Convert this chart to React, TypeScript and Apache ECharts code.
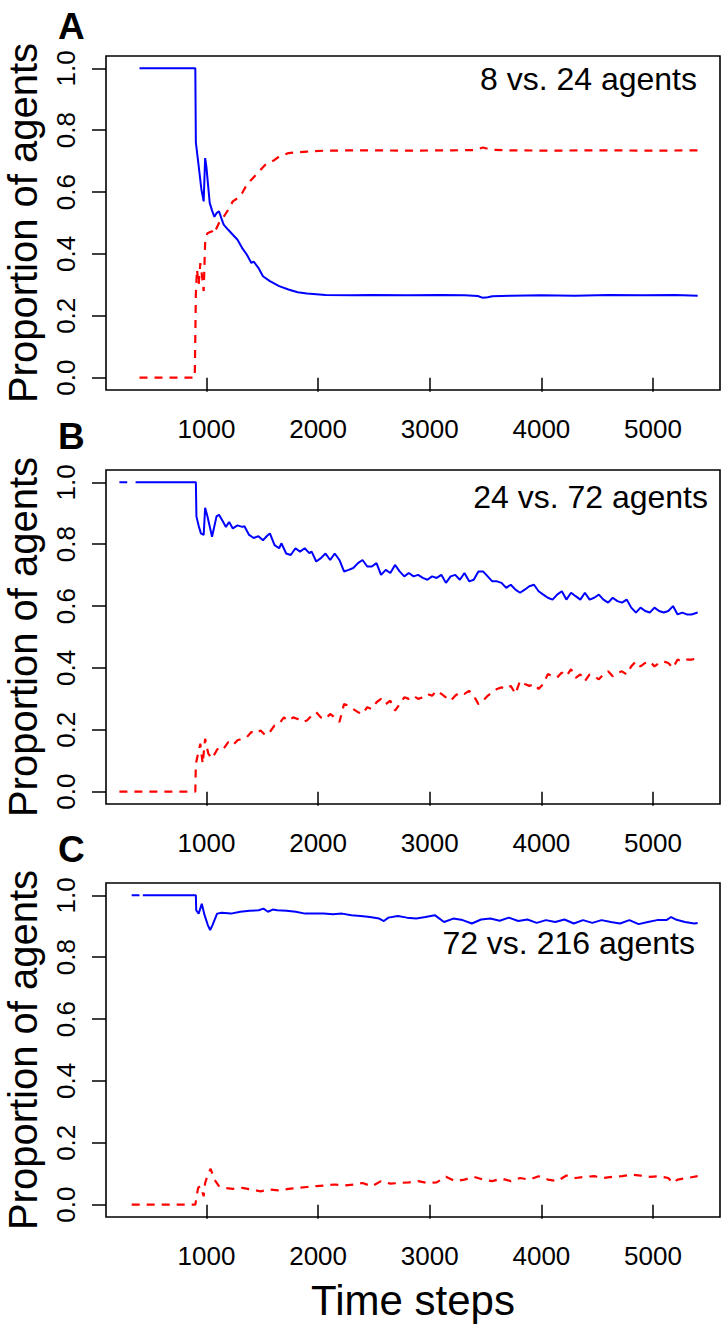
import React, { useEffect, useRef } from "react";
import * as echarts from "echarts";

// Tick labels
const xTicks = [1000, 2000, 3000, 4000, 5000];
const yTicks = [0, 0.2, 0.4, 0.6, 0.8, 1.0];

const panelLetters = ["A", "B", "C"];
const panelNotes = ["8 vs. 24 agents", "24 vs. 72 agents", "72 vs. 216 agents"];

// Panel A
const aBlue: (number | null)[][] = [
  [400, 1], [900, 1], [905, 0.76], [925, 0.7], [954, 0.61], [975, 0.57], [988, 0.71], [1000, 0.68],
  [1015, 0.62], [1029, 0.565], [1050, 0.54], [1071, 0.52], [1091, 0.532], [1112, 0.538], [1133, 0.516],
  [1154, 0.495], [1195, 0.478], [1236, 0.462], [1278, 0.446], [1320, 0.419], [1361, 0.398], [1402, 0.371],
  [1423, 0.375], [1465, 0.355], [1506, 0.328], [1568, 0.312], [1651, 0.296], [1734, 0.285], [1817, 0.276],
  [1900, 0.272], [2066, 0.267], [2300, 0.266], [2481, 0.267], [2800, 0.266], [3100, 0.267], [3311, 0.266],
  [3430, 0.264], [3477, 0.258], [3520, 0.26], [3560, 0.263], [3726, 0.265], [4000, 0.266], [4300, 0.265],
  [4600, 0.267], [4900, 0.266], [5200, 0.267], [5400, 0.265],
];
const aRed: (number | null)[][] = [
  [400, 0], [895, 0], [905, 0.27], [915, 0.35], [930, 0.3], [945, 0.37], [960, 0.33], [975, 0.28],
  [988, 0.435], [1008, 0.467], [1050, 0.473], [1071, 0.465], [1091, 0.484], [1112, 0.5], [1154, 0.52],
  [1195, 0.543], [1236, 0.57], [1278, 0.58], [1320, 0.597], [1361, 0.624], [1402, 0.64], [1444, 0.656],
  [1485, 0.672], [1527, 0.688], [1610, 0.704], [1651, 0.715], [1734, 0.726], [1900, 0.731], [2066, 0.734],
  [2400, 0.735], [2800, 0.734], [3200, 0.735], [3400, 0.736], [3477, 0.744], [3520, 0.74], [3560, 0.737],
  [3726, 0.735], [4100, 0.734], [4500, 0.735], [5000, 0.734], [5400, 0.735],
];

// Panel B
const bBlue: (number | null)[][] = [
  [220, 1], [290, 1], [320, null], [365, 1], [905, 1], [910, 0.89], [930, 0.86], [950, 0.835], [975, 0.83],
  [988, 0.918], [1010, 0.888], [1050, 0.824], [1090, 0.89], [1112, 0.895], [1145, 0.875], [1174, 0.856],
  [1203, 0.872], [1236, 0.851], [1278, 0.861], [1320, 0.856], [1340, 0.858], [1382, 0.83], [1423, 0.82],
  [1465, 0.826], [1506, 0.813], [1548, 0.829], [1568, 0.835], [1610, 0.797], [1651, 0.787], [1672, 0.803],
  [1714, 0.77], [1755, 0.765], [1797, 0.787], [1838, 0.776], [1880, 0.787], [1921, 0.771], [1942, 0.776],
  [1983, 0.744], [2025, 0.755], [2066, 0.77], [2108, 0.749], [2149, 0.77], [2191, 0.749], [2232, 0.712],
  [2274, 0.717], [2315, 0.723], [2357, 0.739], [2398, 0.749], [2440, 0.728], [2481, 0.728], [2523, 0.739],
  [2564, 0.701], [2606, 0.717], [2647, 0.707], [2689, 0.733], [2730, 0.712], [2772, 0.696], [2813, 0.707],
  [2855, 0.696], [2896, 0.701], [2938, 0.691], [2979, 0.685], [3021, 0.696], [3062, 0.691], [3104, 0.701],
  [3145, 0.675], [3187, 0.696], [3228, 0.701], [3270, 0.685], [3311, 0.707], [3353, 0.68], [3394, 0.685],
  [3436, 0.712], [3477, 0.712], [3519, 0.696], [3560, 0.68], [3602, 0.68], [3643, 0.675], [3685, 0.659],
  [3726, 0.669], [3768, 0.653], [3809, 0.643], [3851, 0.653], [3892, 0.664], [3934, 0.669], [3975, 0.648],
  [4017, 0.637], [4058, 0.627], [4100, 0.621], [4141, 0.637], [4183, 0.648], [4224, 0.621], [4266, 0.643],
  [4307, 0.632], [4349, 0.621], [4390, 0.643], [4432, 0.621], [4473, 0.627], [4515, 0.637], [4556, 0.621],
  [4598, 0.611], [4639, 0.627], [4681, 0.616], [4722, 0.611], [4764, 0.621], [4805, 0.595], [4847, 0.579],
  [4888, 0.595], [4930, 0.584], [4971, 0.579], [5013, 0.595], [5054, 0.584], [5096, 0.579], [5137, 0.584],
  [5179, 0.6], [5220, 0.573], [5262, 0.579], [5303, 0.573], [5345, 0.573], [5400, 0.579],
];
const bRed: (number | null)[][] = [
  [220, 0], [900, 0], [905, 0.09], [925, 0.123], [945, 0.155], [966, 0.09], [988, 0.171], [1016, 0.123],
  [1050, 0.107], [1091, 0.133], [1112, 0.144], [1154, 0.139], [1195, 0.16], [1236, 0.15], [1278, 0.166],
  [1320, 0.171], [1361, 0.176], [1402, 0.193], [1444, 0.187], [1485, 0.198], [1527, 0.182], [1568, 0.193],
  [1610, 0.214], [1651, 0.219], [1693, 0.24], [1734, 0.229], [1776, 0.24], [1817, 0.235], [1859, 0.225],
  [1900, 0.23], [1942, 0.246], [1983, 0.257], [2025, 0.24], [2066, 0.235], [2108, 0.251], [2149, 0.24],
  [2191, 0.225], [2232, 0.283], [2274, 0.278], [2315, 0.267], [2357, 0.257], [2398, 0.251], [2440, 0.273],
  [2481, 0.267], [2523, 0.289], [2564, 0.3], [2606, 0.283], [2647, 0.294], [2689, 0.262], [2730, 0.283],
  [2772, 0.305], [2813, 0.3], [2855, 0.31], [2896, 0.3], [2938, 0.305], [2979, 0.316], [3021, 0.31],
  [3062, 0.326], [3104, 0.316], [3145, 0.305], [3187, 0.294], [3228, 0.31], [3270, 0.321], [3311, 0.316],
  [3353, 0.326], [3394, 0.31], [3436, 0.283], [3477, 0.294], [3519, 0.31], [3560, 0.321], [3602, 0.332],
  [3643, 0.337], [3685, 0.332], [3726, 0.342], [3768, 0.316], [3809, 0.358], [3851, 0.348], [3892, 0.342],
  [3934, 0.348], [3975, 0.332], [4017, 0.348], [4058, 0.38], [4100, 0.374], [4141, 0.369], [4183, 0.385],
  [4224, 0.374], [4266, 0.396], [4307, 0.368], [4349, 0.379], [4390, 0.357], [4432, 0.379], [4473, 0.373],
  [4515, 0.363], [4556, 0.379], [4598, 0.389], [4639, 0.373], [4681, 0.384], [4722, 0.389], [4764, 0.379],
  [4805, 0.405], [4847, 0.421], [4888, 0.405], [4930, 0.416], [4971, 0.421], [5013, 0.405], [5054, 0.416],
  [5096, 0.421], [5137, 0.416], [5179, 0.4], [5220, 0.427], [5262, 0.421], [5303, 0.427], [5345, 0.427],
  [5400, 0.431],
];

// Panel C
const cBlue: (number | null)[][] = [
  [330, 1], [400, 1], [415, null], [430, 1], [905, 1], [908, 0.952], [930, 0.941], [958, 0.973], [983, 0.936],
  [1012, 0.904], [1033, 0.888], [1054, 0.904], [1095, 0.941], [1137, 0.944], [1220, 0.941], [1303, 0.947],
  [1385, 0.95], [1468, 0.952], [1510, 0.957], [1551, 0.947], [1593, 0.954], [1634, 0.952], [1717, 0.95],
  [1800, 0.947], [1883, 0.941], [2049, 0.941], [2132, 0.939], [2215, 0.941], [2298, 0.936], [2381, 0.933],
  [2464, 0.93], [2547, 0.925], [2589, 0.917], [2630, 0.928], [2713, 0.933], [2796, 0.928], [2879, 0.925],
  [2962, 0.93], [3045, 0.936], [3128, 0.914], [3211, 0.925], [3294, 0.92], [3377, 0.909], [3460, 0.922],
  [3543, 0.925], [3626, 0.918], [3709, 0.928], [3792, 0.917], [3875, 0.922], [3958, 0.911], [4041, 0.92],
  [4124, 0.914], [4207, 0.922], [4290, 0.909], [4373, 0.92], [4456, 0.911], [4539, 0.92], [4622, 0.914],
  [4705, 0.909], [4788, 0.92], [4871, 0.907], [4954, 0.914], [5037, 0.92], [5120, 0.92], [5162, 0.93],
  [5203, 0.922], [5286, 0.914], [5369, 0.909], [5400, 0.911],
];
const cRed: (number | null)[][] = [
  [330, 0], [900, 0], [925, 0.054], [946, 0.06], [975, 0.027], [988, 0.07], [1008, 0.092], [1037, 0.116],
  [1071, 0.081], [1112, 0.06], [1154, 0.054], [1236, 0.051], [1320, 0.054], [1402, 0.049], [1485, 0.043],
  [1568, 0.049], [1651, 0.046], [1734, 0.051], [1817, 0.054], [1900, 0.057], [1983, 0.06], [2066, 0.062],
  [2149, 0.065], [2232, 0.062], [2315, 0.065], [2398, 0.07], [2481, 0.059], [2564, 0.076], [2647, 0.068],
  [2730, 0.07], [2813, 0.072], [2896, 0.076], [2979, 0.07], [3062, 0.072], [3145, 0.09], [3228, 0.076],
  [3311, 0.081], [3394, 0.09], [3477, 0.081], [3560, 0.076], [3643, 0.084], [3726, 0.076], [3809, 0.086],
  [3892, 0.081], [3975, 0.092], [4058, 0.081], [4141, 0.076], [4224, 0.094], [4307, 0.086], [4390, 0.09],
  [4473, 0.092], [4556, 0.086], [4639, 0.09], [4722, 0.092], [4805, 0.097], [4888, 0.094], [4971, 0.09],
  [5054, 0.092], [5137, 0.086], [5179, 0.07], [5220, 0.081], [5303, 0.086], [5400, 0.092],
];

const blueSeries = [aBlue, bBlue, cBlue];
const redSeries = [aRed, bRed, cRed];

const FONT = "'Liberation Sans', Arial, Helvetica, sans-serif";
const GRID_TOPS = [56, 470, 883];
const GRID_H = 334;
const GRID_LEFT = 106;
const GRID_W = 614;
const LETTER_Y = [26, 436, 849];
const NOTE_POS = [
  [697, 79],
  [708, 497],
  [695, 943],
];

export default function App() {
  const ref = useRef<HTMLDivElement>(null);
  useEffect(() => {
    document.body.style.margin = "0";
    const chart = echarts.init(ref.current!, null, { renderer: "svg" });

    const grids = GRID_TOPS.map((t) => ({
      left: GRID_LEFT,
      top: t,
      width: GRID_W,
      height: GRID_H,
      show: true,
      borderColor: "#000",
      borderWidth: 1.6,
      backgroundColor: "transparent",
      containLabel: false,
    }));

    const xAxes = GRID_TOPS.map((_, i) => ({
      type: "value",
      gridIndex: i,
      min: 100,
      max: 5600,
      axisLine: { show: false },
      splitLine: { show: false },
      axisTick: {
        show: true,
        inside: false,
        length: 14,
        customValues: xTicks,
        lineStyle: { color: "#000", width: 1.5 },
      },
      axisLabel: {
        customValues: xTicks,
        fontSize: 26,
        color: "#000",
        fontFamily: FONT,
        margin: 26,
        formatter: (v: number) => String(Math.round(v)),
      },
    }));

    const yAxes = GRID_TOPS.map((_, i) => ({
      type: "value",
      gridIndex: i,
      min: -0.04,
      max: 1.04,
      axisLine: { show: false },
      splitLine: { show: false },
      axisTick: {
        show: true,
        inside: false,
        length: 14,
        customValues: yTicks,
        lineStyle: { color: "#000", width: 1.5 },
      },
      axisLabel: {
        customValues: yTicks,
        rotate: 90,
        fontSize: 26,
        color: "#000",
        fontFamily: FONT,
        margin: 27,
        formatter: (v: number) => v.toFixed(1),
      },
    }));

    const series: any[] = [];
    for (let i = 0; i < 3; i++) {
      series.push({
        type: "line",
        xAxisIndex: i,
        yAxisIndex: i,
        data: blueSeries[i],
        showSymbol: false,
        symbol: "none",
        connectNulls: false,
        lineStyle: { color: "#0000ff", width: 2 },
        z: 2,
      });
      series.push({
        type: "line",
        xAxisIndex: i,
        yAxisIndex: i,
        data: redSeries[i],
        showSymbol: false,
        symbol: "none",
        lineStyle: { color: "#ff0000", width: 2.2, type: [8, 7] },
        z: 3,
      });
    }

    const graphic: any[] = [];
    for (let i = 0; i < 3; i++) {
      graphic.push({
        type: "text",
        x: 58,
        y: LETTER_Y[i],
        style: {
          text: panelLetters[i],
          fontSize: 37,
          fontWeight: "bold",
          fontFamily: FONT,
          fill: "#000",
          textAlign: "left",
          textVerticalAlign: "middle",
        },
      });
      graphic.push({
        type: "text",
        x: NOTE_POS[i][0],
        y: NOTE_POS[i][1],
        style: {
          text: panelNotes[i],
          fontSize: 32,
          fontFamily: FONT,
          fill: "#000",
          textAlign: "right",
          textVerticalAlign: "middle",
        },
      });
      graphic.push({
        type: "text",
        x: 23,
        y: GRID_TOPS[i] + GRID_H / 2,
        rotation: Math.PI / 2,
        style: {
          text: "Proportion of agents",
          fontSize: 40,
          fontFamily: FONT,
          fill: "#000",
          textAlign: "center",
          textVerticalAlign: "middle",
        },
      });
    }
    graphic.push({
      type: "text",
      x: GRID_LEFT + GRID_W / 2,
      y: 1300,
      style: {
        text: "Time steps",
        fontSize: 42,
        fontFamily: FONT,
        fill: "#000",
        textAlign: "center",
        textVerticalAlign: "middle",
      },
    });

    chart.setOption({
      animation: false,
      backgroundColor: "#fff",
      grid: grids,
      xAxis: xAxes,
      yAxis: yAxes,
      series,
      graphic,
    });
    return () => chart.dispose();
  }, []);
  return <div ref={ref} style={{ width: 728, height: 1331 }} />;
}
